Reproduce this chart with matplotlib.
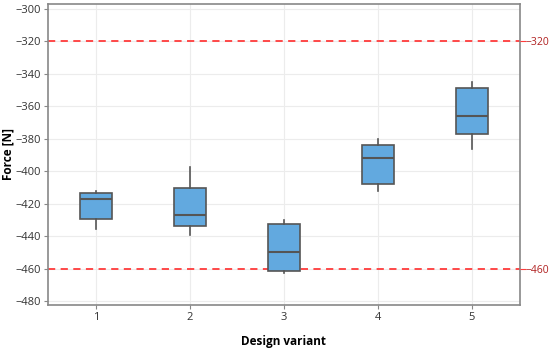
import matplotlib
matplotlib.use("Agg")
import matplotlib.pyplot as plt

plt.rcParams['font.family'] = ['Open Sans', 'DejaVu Sans']

variants = [1, 2, 3, 4, 5]
whisk_lo = [-435.4, -439.1, -462.8, -412.2, -386.5]
q1 = [-429.5, -434.0, -461.3, -407.7, -376.9]
med = [-417.3, -426.8, -450.0, -391.7, -366.2]
q3 = [-413.6, -410.6, -432.5, -384.0, -348.9]
whisk_hi = [-412.0, -397.2, -430.0, -380.0, -344.8]
limits = [-320, -460]
yticks = list(range(-480, -299, 20))

fig = plt.figure(figsize=(5.5, 3.5), dpi=100)
ax = fig.add_axes([0.0873, 0.1286, 0.8577, 0.86])

stats = []
for i in range(len(variants)):
    stats.append(dict(whislo=whisk_lo[i], q1=q1[i], med=med[i], q3=q3[i],
                      whishi=whisk_hi[i], fliers=[], label=str(variants[i])))

ax.set_axisbelow(True)
ax.grid(True, color="#ececec", linewidth=0.8)
for v in limits:
    ax.axhline(v, color="#ff3b3b", linestyle=(0, (4, 3)), linewidth=1.3, zorder=1)

ax.bxp(stats, positions=variants, widths=0.34, showcaps=False, patch_artist=True,
       boxprops=dict(facecolor="#62a9df", edgecolor="#555555", linewidth=1.2),
       medianprops=dict(color="#555555", linewidth=1.5),
       whiskerprops=dict(color="#555555", linewidth=1.2), zorder=3)

ax.set_xlim(0.49, 5.51)
ax.set_ylim(-482.5, -296.9)
ax.set_yticks(yticks)
ax.set_yticklabels([f"\u2212{abs(t)}" for t in yticks], fontsize=8, color="#333333")
ax.set_xticks(variants)
ax.set_xticklabels([str(v) for v in variants], fontsize=8, color="#333333")
ax.tick_params(axis="both", length=3, color="#888888", pad=2)
for s in ax.spines.values():
    s.set_color("#888888")
    s.set_linewidth(1.2)

ax.set_ylabel("Force [N]", fontsize=8.5, fontweight="bold", labelpad=1)
ax.set_xlabel("Design variant", fontsize=8.5, fontweight="bold", labelpad=9)

ax2 = ax.twinx()
ax2.set_ylim(ax.get_ylim())
ax2.set_yticks(limits)
ax2.set_yticklabels([f"\u2212{abs(t)}" for t in limits], fontsize=7.5, color="#b02020")
ax2.tick_params(axis="y", length=4, color="#ff3b3b", pad=0)
for s in ax2.spines.values():
    s.set_visible(False)

fig.savefig("out.png", dpi=100)
